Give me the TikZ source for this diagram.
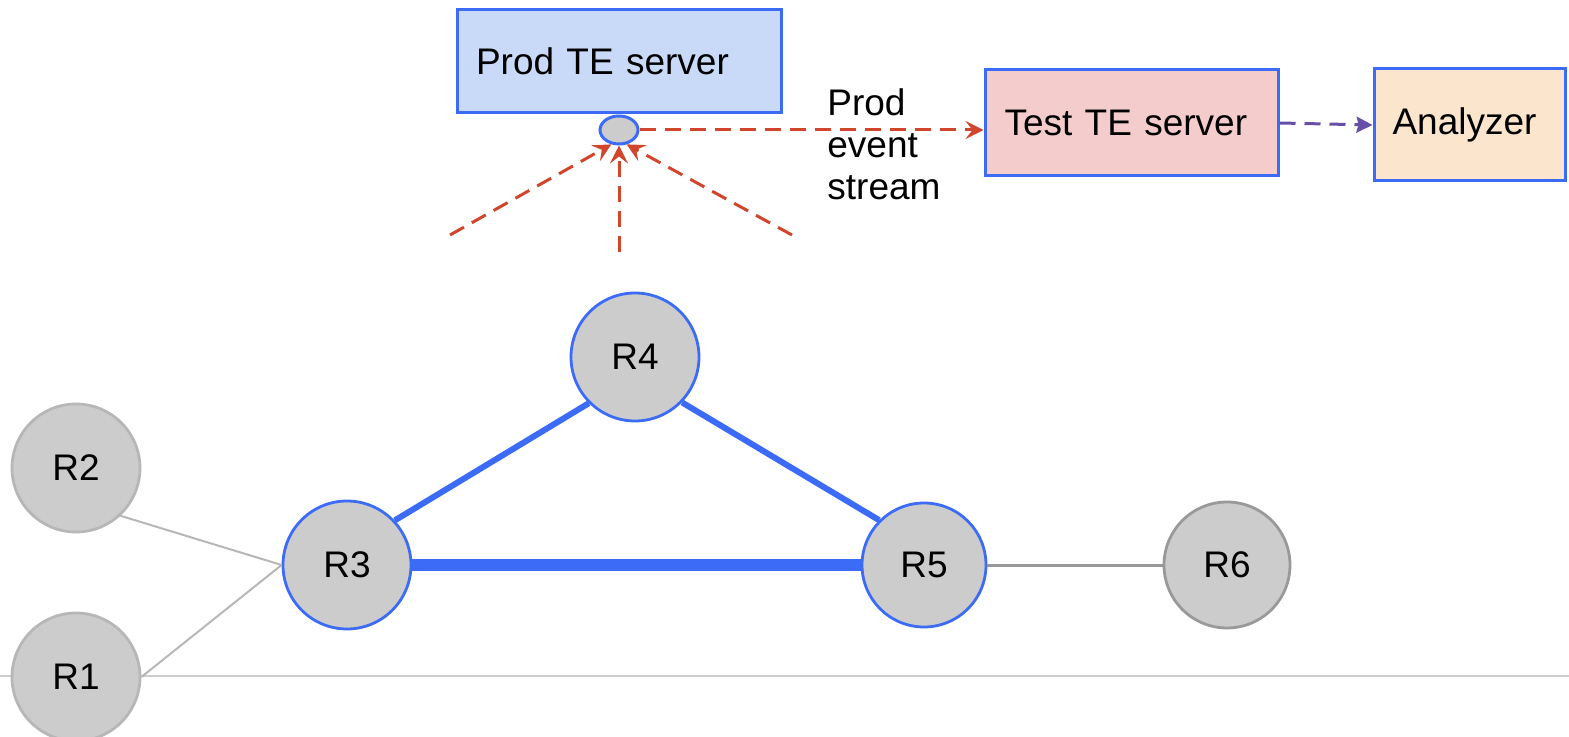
\documentclass[tikz,border=0pt]{standalone}
\usepackage{fontspec}
\setmainfont{Liberation Sans}
\usetikzlibrary{arrows.meta,shapes.geometric}
\definecolor{edgeblue}{HTML}{3C6CF7}
\definecolor{boxblue}{HTML}{C9DAF8}
\definecolor{boxred}{HTML}{F4CCCC}
\definecolor{boxorange}{HTML}{FCE5CD}
\definecolor{nodegray}{HTML}{CCCCCC}
\definecolor{rimgray}{HTML}{B7B7B7}
\definecolor{darkrim}{HTML}{999999}
\definecolor{streamred}{HTML}{D0452B}
\definecolor{purpleline}{HTML}{674EA7}
\tikzset{
  txt/.style={font=\fontsize{18.5}{21}\selectfont},
  server/.style={draw=edgeblue, line width=1.5pt, rectangle, txt, align=left, inner xsep=9pt, anchor=center},
  router/.style={circle, fill=nodegray, line width=1.4pt, minimum size=64pt, inner sep=0pt, txt},
  hotrouter/.style={router, draw=edgeblue},
  coldrouter/.style={router, draw=rimgray},
  streamline/.style={draw=streamred, line width=1.5pt, dash pattern=on 8pt off 4.5pt},
  streamarrow/.style={streamline, -{Stealth[length=9pt,width=9pt,inset=3.5pt]}},
}
\begin{document}
\begin{tikzpicture}[x=0.5pt,y=-0.5pt]
  \useasboundingbox (0,0) rectangle (1569,737);

  % base line
  \draw[draw=nodegray, line width=0.8pt] (0,676) -- (1569,676);

  % servers
  \node[server, fill=boxblue, minimum width=162pt, minimum height=51.5pt, text width=143pt] (prod) at (619,61.5) {Prod TE server};
  \node[server, fill=boxred, minimum width=146.5pt, minimum height=53pt, text width=127pt] (test) at (1131.5,123) {Test TE server};
  \node[server, fill=boxorange, minimum width=95.5pt, minimum height=56pt, text width=77pt] (analyzer) at (1469.5,125) {Analyzer};

  % tap point under the production server
  \node[ellipse, draw=edgeblue, fill=nodegray, line width=1.5pt, minimum width=19pt, minimum height=14pt, inner sep=0pt] (tap) at (619,130) {};

  % event stream
  \draw[streamarrow] (tap.east) -- (tap.east -| test.west);
  \node[txt, align=left, anchor=north west, inner sep=0pt] (streamlbl) at (827,88) {Prod\\event\\stream};
  \draw[draw=purpleline, line width=1.5pt, dash pattern=on 8pt off 4.5pt, -{Stealth[length=8pt,width=8pt,inset=1pt]}] (test.east) -- (analyzer.west);

  % feeds from the network
  \coordinate (fl) at (450,235);
  \coordinate (fm) at (619,252);
  \coordinate (fr) at (792,235);
  \draw[streamarrow] (fl) -- (tap.-118);
  \draw[streamarrow] (fm) -- (tap.south);
  \draw[streamarrow] (fr) -- (tap.-62);

  % routers
  \node[coldrouter] (R2) at (76,468) {R2};
  \node[coldrouter] (R1) at (76,677) {R1};
  \node[hotrouter] (R3) at (347,565) {R3};
  \node[hotrouter] (R4) at (635,357) {R4};
  \node[hotrouter, minimum size=62pt] (R5) at (924,565) {R5};
  \node[router, draw=darkrim, minimum size=63pt] (R6) at (1227,565) {R6};

  % links
  \draw[draw=rimgray, line width=1pt] (R2.-47) -- (R3.west);
  \draw[draw=rimgray, line width=1pt] (R1.east) -- (R3.west);
  \draw[draw=edgeblue, line width=3pt] (R3.43) -- (R4.225);
  \draw[draw=edgeblue, line width=3pt] (R4.-44) -- (R5.135);
  \draw[draw=edgeblue, line width=6pt] (R3) -- (R5);
  \draw[draw=darkrim, line width=1.5pt] (R5) -- (R6);
\end{tikzpicture}
\end{document}
